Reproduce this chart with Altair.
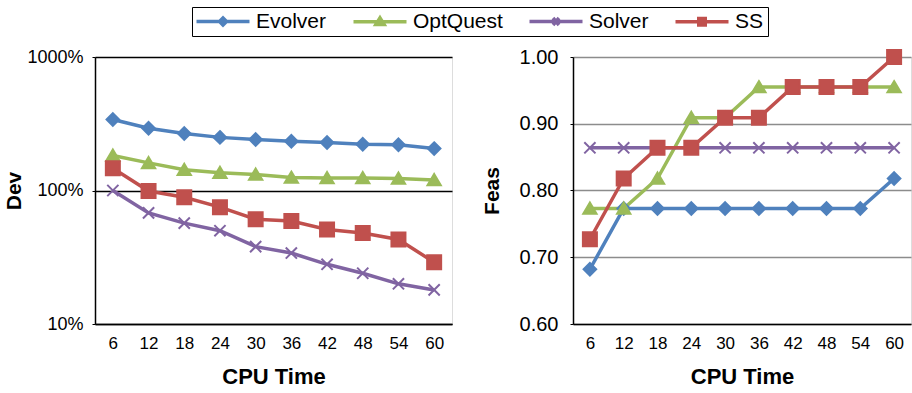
import altair as alt
import pandas as pd

cpu = [6, 12, 18, 24, 30, 36, 42, 48, 54, 60]
series = ["Evolver", "OptQuest", "Solver", "SS"]
colors = ["#4F81BD", "#9BBB59", "#8064A2", "#C0504D"]

dev_evolver = [3.40, 2.93, 2.67, 2.50, 2.41, 2.34, 2.29, 2.22, 2.20, 2.06]
dev_optquest = [1.83, 1.61, 1.43, 1.36, 1.32, 1.25, 1.24, 1.24, 1.23, 1.20]
dev_solver = [1.00, 0.68, 0.57, 0.50, 0.38, 0.34, 0.28, 0.24, 0.20, 0.18]
dev_ss = [1.47, 0.99, 0.89, 0.75, 0.61, 0.59, 0.51, 0.48, 0.43, 0.29]

feas_evolver = [0.682, 0.773, 0.773, 0.773, 0.773, 0.773, 0.773, 0.773, 0.773, 0.818]
feas_optquest = [0.773, 0.773, 0.818, 0.909, 0.909, 0.955, 0.955, 0.955, 0.955, 0.955]
feas_solver = [0.864, 0.864, 0.864, 0.864, 0.864, 0.864, 0.864, 0.864, 0.864, 0.864]
feas_ss = [0.727, 0.818, 0.864, 0.864, 0.909, 0.909, 0.955, 0.955, 0.955, 1.000]

dev_values = [dev_evolver, dev_optquest, dev_solver, dev_ss]
feas_values = [feas_evolver, feas_optquest, feas_solver, feas_ss]

rows = []
for s, dv, fv in zip(series, dev_values, feas_values):
    for t, d, f in zip(cpu, dv, fv):
        rows.append({"series": s, "cpu": t, "dev": d, "feas": f})
df = pd.DataFrame(rows)

FONT = "Liberation Sans"

marker_paths = [
    "M0,-0.9L0.9,0L0,0.9L-0.9,0Z",
    "M0,-0.85L0.95,0.75L-0.95,0.75Z",
    "M-0.8,-0.8L0.8,0.8M-0.8,0.8L0.8,-0.8",
    "M-1,-1L1,-1L1,1L-1,1Z",
]
# legend symbols: a line with the marker in its middle (units of 5 px),
# shifted left so that the symbol sits before its label
legend_paths = [
    "M-8.6,0L2,0M-3.3,-0.7L-2.6,0L-3.3,0.7L-4,0Z",
    "M-8.6,0L2,0M-3.3,-0.78L-2.48,0.55L-4.12,0.55Z",
    "M-8.6,0L2,0M-3.9,-0.7L-2.7,0.7M-3.9,0.7L-2.7,-0.7",
    "M-8.6,0L2,0M-3.95,-0.65L-2.65,-0.65L-2.65,0.65L-3.95,0.65Z",
]

color_scale = alt.Scale(domain=series, range=colors)

x_axis = alt.Axis(
    labelAngle=0, ticks=False, grid=False, domainColor="black", domainWidth=1.5,
    labelFontSize=17, labelFont=FONT, labelColor="black", labelPadding=11,
    title="CPU Time", titleFont=FONT, titleFontSize=22, titleFontWeight="bold",
    titleColor="black", titlePadding=15,
)
x_enc = alt.X("cpu:O", sort=cpu, scale=alt.Scale(type="point", padding=0.5), axis=x_axis)


def panel(ycol, yscale, yaxis, width, height, with_legend):
    base = alt.Chart(df).encode(x=x_enc, y=alt.Y(f"{ycol}:Q", scale=yscale, axis=yaxis))
    lines = base.mark_line(strokeWidth=3.5).encode(
        color=alt.Color("series:N", scale=color_scale, legend=None),
        order=alt.Order("cpu:Q"),
    )
    points = base.mark_point(filled=True, size=196, strokeWidth=2, opacity=1).encode(
        color=alt.Color("series:N", scale=color_scale, legend=None),
        stroke=alt.Stroke("series:N", scale=color_scale, legend=None),
        shape=alt.Shape("series:N", scale=alt.Scale(domain=series, range=marker_paths), legend=None),
    )
    layers = [lines, points]
    if with_legend:
        leg_props = dict(
            title=None, orient="none", legendX=97, legendY=-50, direction="horizontal",
            labelFont=FONT, labelFontSize=21, labelColor="black", labelOffset=6,
            symbolSize=100, symbolOffset=33, symbolStrokeWidth=3.5, symbolOpacity=1,
            columnPadding=19, padding=4, strokeColor="black",
        )
        leg = base.mark_point(filled=True, size=4, opacity=0).encode(
            fill=alt.Fill("series:N", scale=color_scale, legend=alt.Legend(**leg_props)),
            stroke=alt.Stroke("series:N", scale=color_scale, legend=alt.Legend(**leg_props)),
            shape=alt.Shape("series:N", scale=alt.Scale(domain=series, range=legend_paths),
                            legend=alt.Legend(**leg_props)),
        )
        layers.append(leg)
    return alt.layer(*layers).properties(width=width, height=height).resolve_scale(
        shape="independent", fill="independent", stroke="independent"
    )


left = panel(
    "dev",
    alt.Scale(type="log", domain=[0.1, 10], nice=False),
    alt.Axis(values=[0.1, 1, 10], format=".0%", grid=True, gridColor="black", gridWidth=1.3,
             domainColor="black", domainWidth=1.5, tickColor="black", tickSize=3,
             labelFont=FONT, labelFontSize=18, labelColor="black", labelPadding=9,
             title="Dev", titleFont=FONT, titleFontSize=21, titleFontWeight="bold",
             titleColor="black", titlePadding=2),
    357, 267, True,
)
right = panel(
    "feas",
    alt.Scale(domain=[0.6, 1.0], nice=False, zero=False),
    alt.Axis(values=[0.6, 0.7, 0.8, 0.9, 1.0], format=".2f", grid=True, gridColor="#8c8c8c",
             gridWidth=1.5, domainColor="black", domainWidth=1.5, tickColor="black", tickSize=3,
             labelFont=FONT, labelFontSize=20, labelColor="black", labelPadding=12,
             title="Feas", titleFont=FONT, titleFontSize=21, titleFontWeight="bold",
             titleColor="black", titlePadding=17),
    338, 267, False,
)

chart = alt.hconcat(left, right, spacing=121, bounds="flush").resolve_scale(
    shape="independent", fill="independent", stroke="independent", color="independent"
).properties(
    padding={"left": 3, "top": 6, "right": 0, "bottom": 0}
).configure_view(stroke=None).configure(background="white")

chart.save("out.html", embed_options={"renderer": "svg", "actions": False})
